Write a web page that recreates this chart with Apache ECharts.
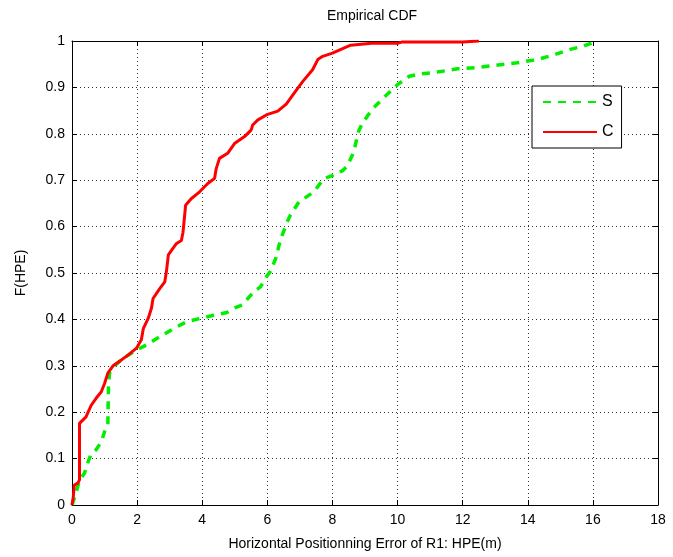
<!DOCTYPE html>
<html><head><meta charset="utf-8">
<script src="https://cdn.jsdelivr.net/npm/echarts@6/dist/echarts.min.js"></script>
<style>html,body{margin:0;padding:0;background:#fff}#c{width:673px;height:557px}</style>
</head><body><div id="c"></div>
<script>
var xTicks = [0,2,4,6,8,10,12,14,16,18];
var yTicks = [0,0.1,0.2,0.3,0.4,0.5,0.6,0.7,0.8,0.9,1];
var sX = [0,0.12,0.23,0.38,0.48,0.59,0.74,0.9,1.0,1.1,1.12,1.15,1.31,1.57,1.98,2.29,2.7,3.22,3.53,3.94,4.35,4.76,4.97,5.23,5.59,5.79,5.95,6.1,6.26,6.36,6.46,6.61,6.71,6.97,7.43,7.73,7.99,8.3,8.45,8.65,8.7,8.8,8.9,9.1,9.32,9.62,10.0,10.36,10.71,11.22,11.84,12.45,12.96,13.67,14.29,14.8,15.31,15.71,16.12];
var sY = [0,0.025,0.054,0.068,0.09,0.111,0.119,0.136,0.158,0.169,0.255,0.284,0.3,0.316,0.334,0.345,0.363,0.384,0.395,0.402,0.409,0.415,0.424,0.431,0.46,0.47,0.49,0.504,0.532,0.56,0.582,0.61,0.625,0.653,0.675,0.703,0.71,0.72,0.73,0.76,0.775,0.805,0.82,0.841,0.86,0.881,0.906,0.924,0.929,0.933,0.94,0.943,0.947,0.953,0.96,0.97,0.982,0.989,1.0];
var cX = [0,0.04,0.07,0.18,0.23,0.23,0.43,0.59,0.74,0.9,1.0,1.1,1.26,1.46,1.72,1.98,2.13,2.19,2.34,2.44,2.49,2.7,2.85,2.9,2.96,3.05,3.2,3.36,3.41,3.49,3.66,3.92,4.17,4.38,4.43,4.53,4.78,4.99,5.3,5.5,5.55,5.71,6.01,6.32,6.58,6.83,7.09,7.39,7.55,7.7,8.0,8.26,8.56,9.2,10.0,10.15,12.0,12.5];
var cY = [0,0.018,0.043,0.047,0.054,0.176,0.19,0.215,0.23,0.244,0.262,0.284,0.3,0.31,0.323,0.338,0.356,0.38,0.402,0.424,0.445,0.467,0.481,0.503,0.539,0.548,0.563,0.57,0.588,0.646,0.66,0.675,0.693,0.704,0.725,0.747,0.758,0.779,0.794,0.808,0.819,0.83,0.842,0.849,0.864,0.888,0.913,0.938,0.96,0.967,0.974,0.982,0.991,0.995,0.995,0.998,0.998,1.0];

function pairs(xs, ys){ return xs.map(function(x,i){return [x, ys[i]];}); }
var font = 'Liberation Sans, Arial, Helvetica, sans-serif';
var gridLine = {show:true, lineStyle:{color:'#333', type:[1,3], width:1}};
var chart = echarts.init(document.getElementById('c'));
chart.setOption({
  animation:false,
  backgroundColor:'#fff',
  title:{text:'Empirical CDF', left:367, top:4, textAlign:'center', textStyle:{fontFamily:font, fontSize:14, fontWeight:'normal', color:'#000'}},
  grid:{left:72, right:15, top:41, bottom:52, containLabel:false},
  legend:{
    orient:'vertical', left:532, top:86, width:90,
    backgroundColor:'#fff', borderColor:'#000', borderWidth:1, borderRadius:0,
    padding:[8,8,8,10], itemWidth:54, itemHeight:12, itemGap:14,
    itemStyle:{opacity:0},
    textStyle:{fontFamily:font, fontSize:16, color:'#000'},
    data:['S','C']
  },
  xAxis:[{
    type:'value', min:0, max:18, interval:2, position:'bottom',
    name:'Horizontal Positionning Error of R1: HPE(m)', nameLocation:'middle', nameGap:32,
    nameTextStyle:{fontFamily:font, fontSize:14, color:'#000'},
    axisLine:{show:true, onZero:false, lineStyle:{color:'#000', width:1}},
    axisTick:{show:true, inside:true, length:5, lineStyle:{color:'#000'}},
    axisLabel:{fontFamily:font, fontSize:14, color:'#000', margin:8},
    splitLine:gridLine
  },{
    type:'value', min:0, max:18, interval:2, position:'top',
    axisLine:{show:true, onZero:false, lineStyle:{color:'#000', width:1}},
    axisTick:{show:true, inside:true, length:5, lineStyle:{color:'#000'}},
    axisLabel:{show:false}, splitLine:{show:false}
  }],
  yAxis:[{
    type:'value', min:0, max:1, interval:0.1, position:'left',
    name:'F(HPE)', nameLocation:'middle', nameGap:44, nameRotate:90,
    nameTextStyle:{fontFamily:font, fontSize:14, color:'#000'},
    axisLine:{show:true, onZero:false, lineStyle:{color:'#000', width:1}},
    axisTick:{show:true, inside:true, length:5, lineStyle:{color:'#000'}},
    axisLabel:{fontFamily:font, fontSize:14, color:'#000', margin:7,
      formatter:function(v){ return String(Math.round(v*10)/10); }},
    splitLine:gridLine
  },{
    type:'value', min:0, max:1, interval:0.1, position:'right',
    axisLine:{show:true, onZero:false, lineStyle:{color:'#000', width:1}},
    axisTick:{show:true, inside:true, length:5, lineStyle:{color:'#000'}},
    axisLabel:{show:false}, splitLine:{show:false}
  }],
  series:[{
    name:'S', type:'line', data:pairs(sX,sY), symbol:'none', showSymbol:false,
    lineStyle:{color:'#00ee00', width:3.5, type:[8,7]}, itemStyle:{color:'#00ee00'}, z:2
  },{
    name:'C', type:'line', data:pairs(cX,cY), symbol:'none', showSymbol:false,
    lineStyle:{color:'#ff0000', width:3}, itemStyle:{color:'#ff0000'}, z:3
  }]
});
</script></body></html>
